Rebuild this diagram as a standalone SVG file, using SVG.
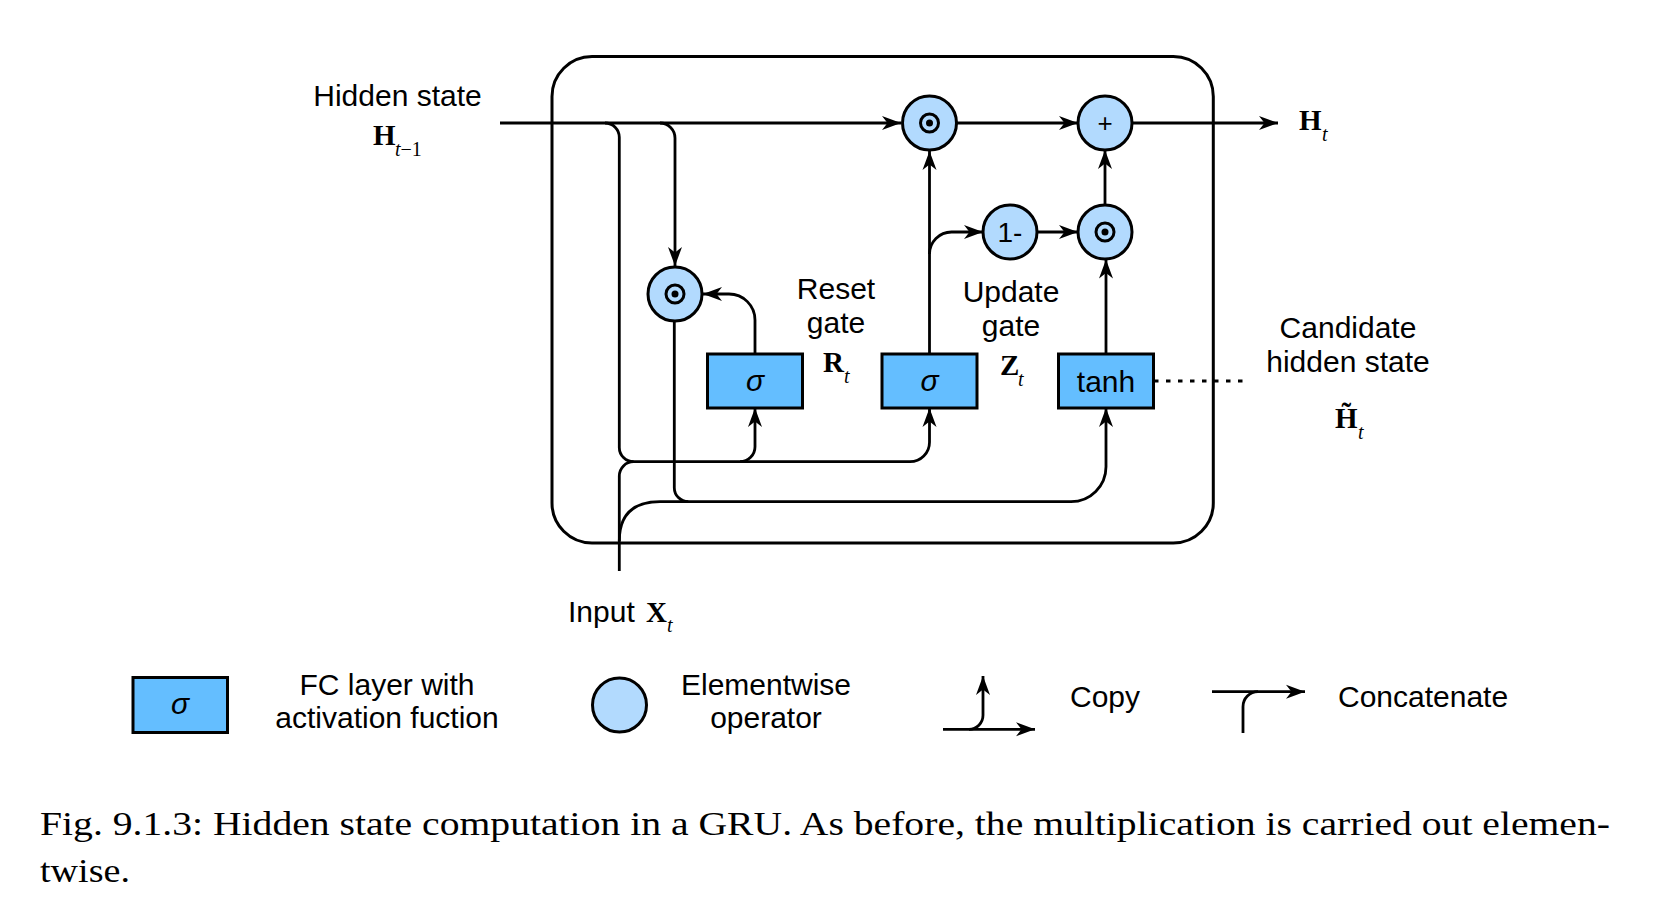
<svg xmlns="http://www.w3.org/2000/svg" width="1666" height="900" viewBox="0 0 1666 900">
<style>
.ln{fill:none;stroke:#000;stroke-width:2.8}
.arr{marker-end:url(#ah)}
.box{fill:#64beff;stroke:#000;stroke-width:3}
.op{fill:#b2dafe;stroke:#000;stroke-width:3}
.lbl{font-family:"Liberation Sans",Arial,sans-serif;font-size:30px;fill:#000}
.mb{font-family:"Liberation Serif","Times New Roman",serif;font-weight:bold;font-size:29px;fill:#000}
.sub{font-family:"Liberation Serif","Times New Roman",serif;font-style:italic;font-size:20px;fill:#000}
.sg{font-family:"Liberation Sans",Arial,sans-serif;font-style:italic;font-size:30px;fill:#000}
.cap{font-family:"Liberation Serif","Times New Roman",serif;font-size:34px;fill:#000}
</style>
<defs>
<marker id="ah" markerUnits="userSpaceOnUse" markerWidth="20" markerHeight="16" refX="19" refY="8" orient="auto">
<path d="M0,1 L19,8 L0,15 L5.5,8 Z" fill="#000"/>
</marker>
<g id="odot-sym">
<circle r="9" fill="none" stroke="#000" stroke-width="3"/>
<circle r="3.5" fill="#000"/>
</g>
</defs>
<rect width="1666" height="900" fill="#fff"/>

<g id="frame">
<rect x="552" y="56.5" width="661.3" height="486.5" rx="40" ry="40" fill="none" stroke="#000" stroke-width="3"/>
</g>

<g id="connectors">
<path class="ln arr" d="M500,123 L901,123"/>
<path class="ln arr" d="M660,123 A15,15 0 0 1 675,138 L675,266"/>
<path class="ln" d="M605,123 A14.3,14.3 0 0 1 619.3,137.3 L619.3,447.4 A14.3,14.3 0 0 0 633.6,461.7 L910,461.7"/>
<path class="ln arr" d="M910,461.7 A19.5,19.5 0 0 0 929.5,442.2 L929.5,408"/>
<path class="ln arr" d="M740,461.7 A15,15 0 0 0 755,446.7 L755,408"/>
<path class="ln" d="M619.3,571 L619.3,476 A14.3,14.3 0 0 1 633.6,461.7"/>
<path class="ln arr" d="M619.3,541 C619.3,515 633,501.7 660,501.7 L1071,501.7 A35,35 0 0 0 1106,466.7 L1106,408"/>
<path class="ln" d="M674.3,321 L674.3,487.7 A14,14 0 0 0 688.3,501.7"/>
<path class="ln arr" d="M755,354 L755,320 A26,26 0 0 0 729,294 L703,294"/>
<path class="ln arr" d="M929.5,354 L929.5,151"/>
<path class="ln arr" d="M929.5,254 A22,22 0 0 1 951.5,232 L983,232"/>
<path class="ln arr" d="M1037,232 L1078,232"/>
<path class="ln arr" d="M956.5,123 L1078,123"/>
<path class="ln arr" d="M1105,205 L1105,150"/>
<path class="ln arr" d="M1106,354 L1106,259.5"/>
<path class="ln arr" d="M1132,123 L1278,123"/>
<path d="M1154,381 L1246,381" fill="none" stroke="#000" stroke-width="2.8" stroke-dasharray="4.5 7.5"/>
</g>

<g id="reset-mul">
<circle class="op" cx="675" cy="294" r="27"/>
<use href="#odot-sym" x="675" y="294"/>
</g>
<g id="top-mul">
<circle class="op" cx="929.5" cy="123" r="27"/>
<use href="#odot-sym" x="929.5" y="123"/>
</g>
<g id="plus">
<circle class="op" cx="1105" cy="123" r="27"/>
<text class="lbl" x="1105" y="132" text-anchor="middle" style="font-size:26px">+</text>
</g>
<g id="one-minus">
<circle class="op" cx="1010" cy="232" r="27"/>
<text class="lbl" x="1010" y="242" text-anchor="middle" style="font-size:28px">1-</text>
</g>
<g id="low-mul">
<circle class="op" cx="1105" cy="232" r="27"/>
<use href="#odot-sym" x="1105" y="232"/>
</g>

<g id="reset-gate">
<rect class="box" x="707.5" y="354" width="95" height="54"/>
<text class="sg" x="755" y="391" text-anchor="middle">σ</text>
</g>
<g id="update-gate">
<rect class="box" x="882" y="354" width="95" height="54"/>
<text class="sg" x="929.5" y="391" text-anchor="middle">σ</text>
</g>
<g id="tanh-layer">
<rect class="box" x="1058.5" y="354" width="95" height="54"/>
<text class="lbl" x="1106" y="392" text-anchor="middle">tanh</text>
</g>

<g id="label-hprev">
<text class="lbl" x="397.5" y="106" text-anchor="middle">Hidden state</text>
<text class="mb" x="373" y="145">H</text>
<text class="sub" x="395" y="156">t<tspan style="font-style:normal">−1</tspan></text>
</g>
<g id="label-reset">
<text class="lbl" x="836" y="299" text-anchor="middle">Reset</text>
<text class="lbl" x="836" y="333" text-anchor="middle">gate</text>
<text class="mb" x="823" y="372">R</text>
<text class="sub" x="844" y="383">t</text>
</g>
<g id="label-update">
<text class="lbl" x="1011" y="302" text-anchor="middle">Update</text>
<text class="lbl" x="1011" y="336" text-anchor="middle">gate</text>
<text class="mb" x="1000" y="375">Z</text>
<text class="sub" x="1018" y="386">t</text>
</g>
<g id="label-ht">
<text class="mb" x="1299" y="130">H</text>
<text class="sub" x="1322" y="141">t</text>
</g>
<g id="label-candidate">
<text class="lbl" x="1348" y="338" text-anchor="middle">Candidate</text>
<text class="lbl" x="1348" y="372" text-anchor="middle">hidden state</text>
<text class="mb" x="1335" y="428">H̃</text>
<text class="sub" x="1358" y="439">t</text>
</g>
<g id="label-input">
<text class="lbl" x="568" y="622">Input</text>
<text class="mb" x="646" y="622">X</text>
<text class="sub" x="667" y="632">t</text>
</g>

<g id="legend-fc">
<rect class="box" x="133" y="677.5" width="94.5" height="55"/>
<text class="sg" x="180" y="714" text-anchor="middle">σ</text>
<text class="lbl" x="387" y="695" text-anchor="middle">FC layer with</text>
<text class="lbl" x="387" y="728" text-anchor="middle">activation fuction</text>
</g>
<g id="legend-op">
<circle class="op" cx="619.5" cy="705" r="27"/>
<text class="lbl" x="766" y="695" text-anchor="middle">Elementwise</text>
<text class="lbl" x="766" y="728" text-anchor="middle">operator</text>
</g>
<g id="legend-copy">
<path class="ln arr" d="M943,729.3 L1035,729.3"/>
<path class="ln arr" d="M969,729.3 A14,14 0 0 0 983,715.3 L983,676"/>
<text class="lbl" x="1070" y="707">Copy</text>
</g>
<g id="legend-concat">
<path class="ln arr" d="M1212,691.7 L1305,691.7"/>
<path class="ln" d="M1243,733 L1243,706.7 A15,15 0 0 1 1258,691.7"/>
<text class="lbl" x="1338" y="707">Concatenate</text>
</g>

<g id="caption">
<text class="cap" x="40" y="835" textLength="1570" lengthAdjust="spacingAndGlyphs">Fig. 9.1.3: Hidden state computation in a GRU. As before, the multiplication is carried out elemen-</text>
<text class="cap" x="40" y="882" textLength="90" lengthAdjust="spacingAndGlyphs">twise.</text>
</g>
</svg>
